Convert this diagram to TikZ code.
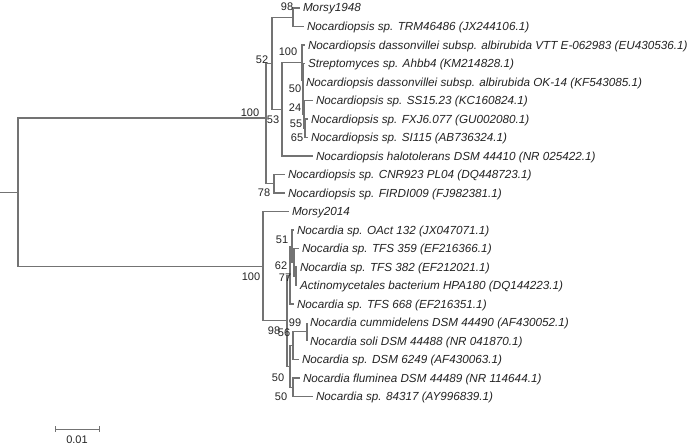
\documentclass[tikz,border=0pt]{standalone}
\usepackage{fontspec}
\setmainfont{Liberation Sans}
\definecolor{linec}{RGB}{115,115,115}
\definecolor{textc}{RGB}{35,35,35}
\begin{document}
\begin{tikzpicture}[x=1pt,y=-1pt,
  br/.style={draw=linec, line width=1.1pt},
  leaf/.style={anchor=west, inner xsep=3pt, inner ysep=0pt, outer sep=0pt,
    font=\fontsize{11.7}{13}\selectfont\itshape, text=textc, text height=8pt, text depth=0pt},
  bs/.style={inner sep=0pt, font=\fontsize{11}{12}\selectfont, text=textc}]
\useasboundingbox (0,0) rectangle (691,447);
% leaves
\node[leaf] (L0) at (300,8) {Morsy1948};
\node[leaf] (L1) at (304,26.5) {Nocardiopsis sp. TRM46486 (JX244106.1)};
\node[leaf] (L2) at (305,45) {Nocardiopsis dassonvillei subsp. albirubida VTT E-062983 (EU430536.1)};
\node[leaf] (L3) at (305,63.5) {Streptomyces sp. Ahbb4 (KM214828.1)};
\node[leaf] (L4) at (303,82) {Nocardiopsis dassonvillei subsp. albirubida OK-14 (KF543085.1)};
\node[leaf] (L5) at (313,100.5) {Nocardiopsis sp. SS15.23 (KC160824.1)};
\node[leaf] (L6) at (308,119) {Nocardiopsis sp. FXJ6.077 (GU002080.1)};
\node[leaf] (L7) at (308,137.5) {Nocardiopsis sp. SI115 (AB736324.1)};
\node[leaf] (L8) at (313,156) {Nocardiopsis halotolerans DSM 44410 (NR 025422.1)};
\node[leaf] (L9) at (285,174.5) {Nocardiopsis sp. CNR923 PL04 (DQ448723.1)};
\node[leaf] (L10) at (285,193) {Nocardiopsis sp. FIRDI009 (FJ982381.1)};
\node[leaf] (L11) at (289,211.5) {Morsy2014};
\node[leaf] (L12) at (294,230) {Nocardia sp. OAct 132 (JX047071.1)};
\node[leaf] (L13) at (299,248.5) {Nocardia sp. TFS 359 (EF216366.1)};
\node[leaf] (L14) at (297,267) {Nocardia sp. TFS 382 (EF212021.1)};
\node[leaf] (L15) at (297,285.5) {Actinomycetales bacterium HPA180 (DQ144223.1)};
\node[leaf] (L16) at (294,304) {Nocardia sp. TFS 668 (EF216351.1)};
\node[leaf] (L17) at (307,322.5) {Nocardia cummidelens DSM 44490 (AF430052.1)};
\node[leaf] (L18) at (307,341) {Nocardia soli DSM 44488 (NR 041870.1)};
\node[leaf] (L19) at (299,359.5) {Nocardia sp. DSM 6249 (AF430063.1)};
\node[leaf] (L20) at (300,378) {Nocardia fluminea DSM 44489 (NR 114644.1)};
\node[leaf] (L21) at (313,396.5) {Nocardia sp. 84317 (AY996839.1)};
% internal nodes
\coordinate (n98) at (293,17.25);
\coordinate (a5) at (305,128.25);
\coordinate (a4) at (304,114.4);
\coordinate (a3) at (303,98.2);
\coordinate (a2) at (303,80.85);
\coordinate (a1) at (302,62.9);
\coordinate (n53) at (282,109.5);
\coordinate (n52) at (272,63.4);
\coordinate (n78) at (274,183.75);
\coordinate (A) at (266,118);
\coordinate (U) at (296,276.25);
\coordinate (T) at (294,262.4);
\coordinate (S) at (292,246.2);
\coordinate (G1) at (290,275.1);
\coordinate (b99) at (307,331.75);
\coordinate (b56) at (293,345.6);
\coordinate (F) at (293,387.25);
\coordinate (X) at (290,366.4);
\coordinate (C) at (287,320.8);
\coordinate (B) at (263,266.1);
\coordinate (R) at (18,192.6);
\coordinate (R0) at (0,192.6);
% branches
\draw[br] (R0) -- (R);
\draw[br] (R) |- (A);
\draw[br] (R) |- (B);
\draw[br] (A) |- (n52);
\draw[br] (A) |- (n78);
\draw[br] (n52) |- (n98);
\draw[br] (n52) |- (n53);
\draw[br] (n98) |- (L0.west);
\draw[br] (n98) |- (L1.west);
\draw[br] (n53) |- (a1);
\draw[br] (n53) |- (L8.west);
\draw[br] (a1) |- (L2.west);
\draw[br] (a1) |- (a2);
\draw[br] (a2) |- (L3.west);
\draw[br] (a2) |- (a3);
\draw[br] (a3) |- (L4.west);
\draw[br] (a3) |- (a4);
\draw[br] (a4) |- (L5.west);
\draw[br] (a4) |- (a5);
\draw[br] (a5) |- (L6.west);
\draw[br] (a5) |- (L7.west);
\draw[br] (n78) |- (L9.west);
\draw[br] (n78) |- (L10.west);
\draw[br] (B) |- (L11.west);
\draw[br] (B) |- (C);
\draw[br] (C) |- (G1);
\draw[br] (C) |- (X);
\draw[br] (G1) |- (S);
\draw[br] (G1) |- (L16.west);
\draw[br] (S) |- (L12.west);
\draw[br] (S) |- (T);
\draw[br] (T) |- (L13.west);
\draw[br] (T) |- (U);
\draw[br] (U) |- (L14.west);
\draw[br] (U) |- (L15.west);
\draw[br] (X) |- (b56);
\draw[br] (X) |- (F);
\draw[br] (b56) |- (b99);
\draw[br] (b56) |- (L19.west);
\draw[br] (b99) |- (L17.west);
\draw[br] (b99) |- (L18.west);
\draw[br] (F) |- (L20.west);
\draw[br] (F) |- (L21.west);
% bootstrap values
\node[bs] (s1) at (287,7) {98};
\node[bs] (s2) at (262,60) {52};
\node[bs] (s3) at (288,52) {100};
\node[bs] (s4) at (295,89) {50};
\node[bs] (s5) at (295,108) {24};
\node[bs] (s6) at (296,124) {55};
\node[bs] (s7) at (297,138) {65};
\node[bs] (s8) at (250,113) {100};
\node[bs] (s9) at (273,120) {53};
\node[bs] (s10) at (264,193) {78};
\node[bs] (s11) at (282,240) {51};
\node[bs] (s12) at (281,266) {62};
\node[bs] (s13) at (285,278) {77};
\node[bs] (s14) at (251,277) {100};
\node[bs] (s15) at (295,323) {99};
\node[bs] (s16) at (274,331) {98};
\node[bs] (s17) at (284,333) {56};
\node[bs] (s18) at (278,378) {50};
\node[bs] (s19) at (281,397) {50};
% scale bar
\coordinate (sb1) at (55,429);
\coordinate (sb2) at (99,429);
\draw[br, line width=0.9pt] (sb1) -- (sb2);
\draw[br, line width=0.9pt] ([yshift=3pt]sb1) -- ([yshift=-3pt]sb1);
\draw[br, line width=0.9pt] ([yshift=3pt]sb2) -- ([yshift=-3pt]sb2);
\node[bs] (sbl) at (77,440) {0.01};
\end{tikzpicture}
\end{document}
